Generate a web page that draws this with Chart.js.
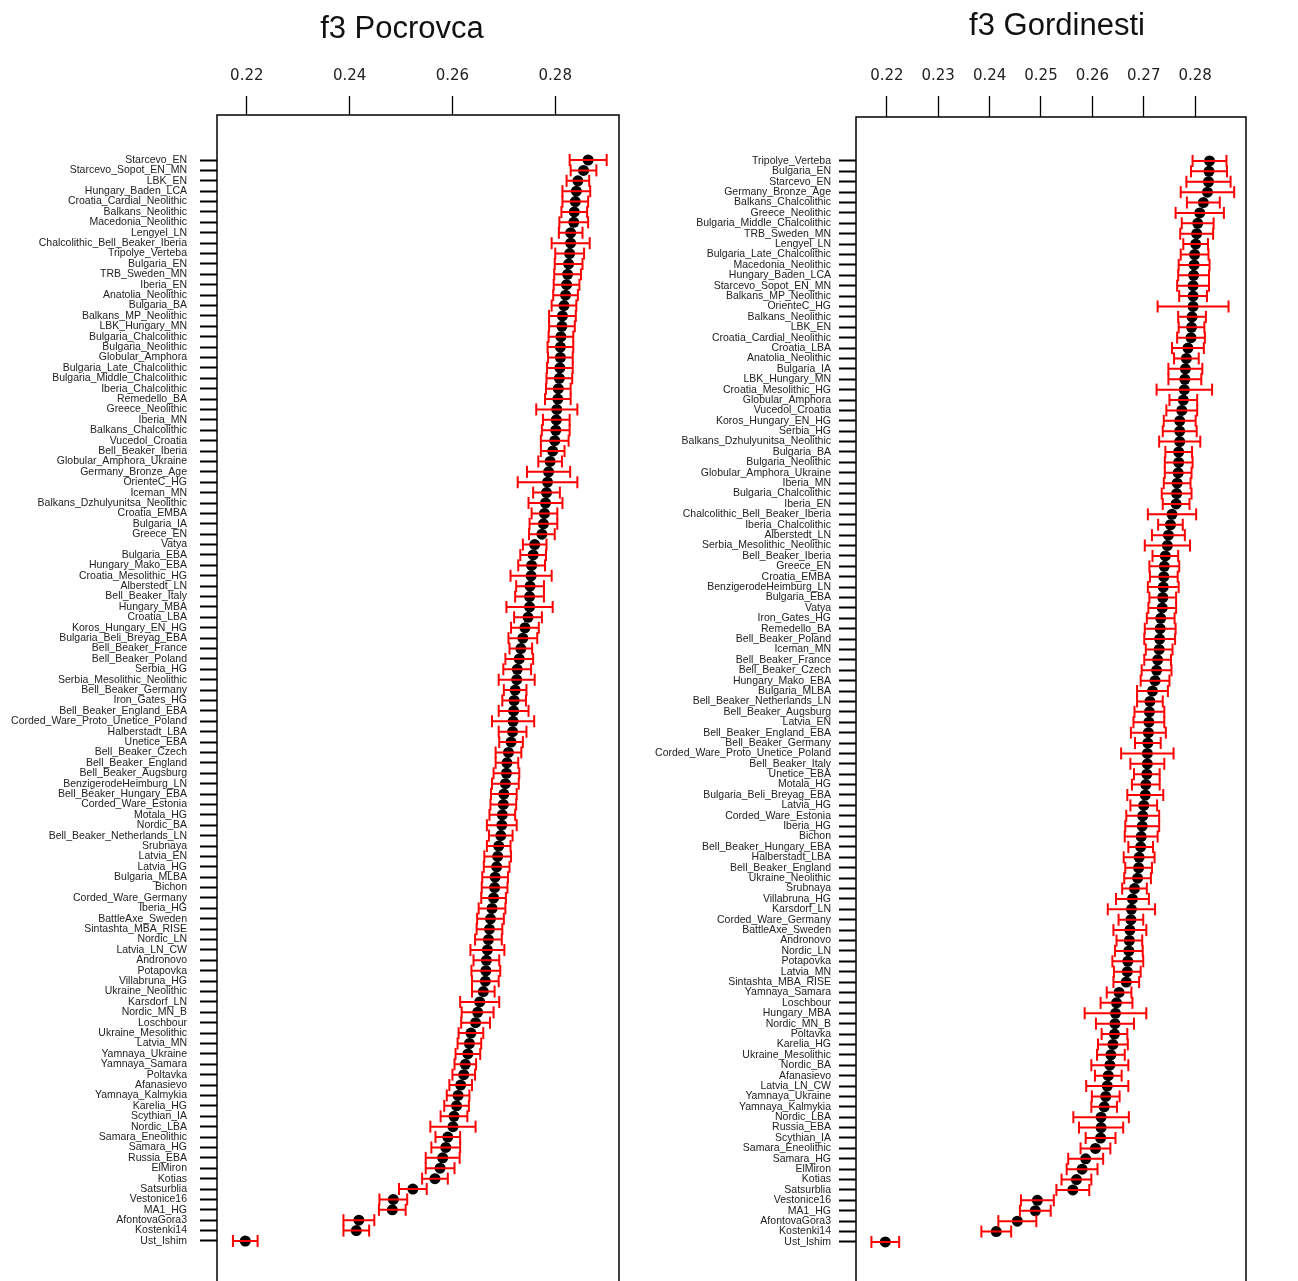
<!DOCTYPE html>
<html><head><meta charset="utf-8">
<script src="https://cdn.jsdelivr.net/npm/chart.js@4.4.0/dist/chart.umd.min.js"></script>
<style>
html,body{margin:0;padding:0;background:#fff;overflow:hidden;width:1298px;height:1281px}
canvas{position:absolute;top:0}
#c1{left:0}
#c2{left:640px}
</style></head>
<body>
<canvas id="c1" width="640" height="1300"></canvas>
<canvas id="c2" width="658" height="1300"></canvas>
<script>
const leftTitle = 'f3 Pocrovca';
const rightTitle = 'f3 Gordinesti';
const leftTicks = [0.22, 0.24, 0.26, 0.28];
const rightTicks = [0.22, 0.23, 0.24, 0.25, 0.26, 0.27, 0.28];

const leftCategories = ['Starcevo_EN','Starcevo_Sopot_EN_MN','LBK_EN','Hungary_Baden_LCA','Croatia_Cardial_Neolithic','Balkans_Neolithic','Macedonia_Neolithic','Lengyel_LN','Chalcolithic_Bell_Beaker_Iberia','Tripolye_Verteba',
'Bulgaria_EN','TRB_Sweden_MN','Iberia_EN','Anatolia_Neolithic','Bulgaria_BA','Balkans_MP_Neolithic','LBK_Hungary_MN','Bulgaria_Chalcolithic','Bulgaria_Neolithic','Globular_Amphora',
'Bulgaria_Late_Chalcolithic','Bulgaria_Middle_Chalcolithic','Iberia_Chalcolithic','Remedello_BA','Greece_Neolithic','Iberia_MN','Balkans_Chalcolithic','Vucedol_Croatia','Bell_Beaker_Iberia','Globular_Amphora_Ukraine',
'Germany_Bronze_Age','OrienteC_HG','Iceman_MN','Balkans_Dzhulyunitsa_Neolithic','Croatia_EMBA','Bulgaria_IA','Greece_EN','Vatya','Bulgaria_EBA','Hungary_Mako_EBA',
'Croatia_Mesolithic_HG','Alberstedt_LN','Bell_Beaker_Italy','Hungary_MBA','Croatia_LBA','Koros_Hungary_EN_HG','Bulgaria_Beli_Breyag_EBA','Bell_Beaker_France','Bell_Beaker_Poland','Serbia_HG',
'Serbia_Mesolithic_Neolithic','Bell_Beaker_Germany','Iron_Gates_HG','Bell_Beaker_England_EBA','Corded_Ware_Proto_Unetice_Poland','Halberstadt_LBA','Unetice_EBA','Bell_Beaker_Czech','Bell_Beaker_England','Bell_Beaker_Augsburg',
'BenzigerodeHeimburg_LN','Bell_Beaker_Hungary_EBA','Corded_Ware_Estonia','Motala_HG','Nordic_BA','Bell_Beaker_Netherlands_LN','Srubnaya','Latvia_EN','Latvia_HG','Bulgaria_MLBA',
'Bichon','Corded_Ware_Germany','Iberia_HG','BattleAxe_Sweden','Sintashta_MBA_RISE','Nordic_LN','Latvia_LN_CW','Andronovo','Potapovka','Villabruna_HG',
'Ukraine_Neolithic','Karsdorf_LN','Nordic_MN_B','Loschbour','Ukraine_Mesolithic','Latvia_MN','Yamnaya_Ukraine','Yamnaya_Samara','Poltavka','Afanasievo',
'Yamnaya_Kalmykia','Karelia_HG','Scythian_IA','Nordic_LBA','Samara_Eneolithic','Samara_HG','Russia_EBA','ElMiron','Kotias','Satsurblia',
'Vestonice16','MA1_HG','AfontovaGora3','Kostenki14','Ust_Ishim'];

const leftValues = [0.2864,0.2855,0.2844,0.2841,0.2839,0.2837,0.2836,0.2830,0.2830,0.2828,
0.2826,0.2824,0.2822,0.2820,0.2817,0.2814,0.2813,0.2811,0.2810,0.2810,
0.2809,0.2808,0.2806,0.2805,0.2803,0.2802,0.2801,0.2799,0.2795,0.2790,
0.2787,0.2785,0.2783,0.2781,0.2779,0.2777,0.2774,0.2760,0.2757,0.2754,
0.2753,0.2751,0.2750,0.2750,0.2747,0.2741,0.2737,0.2733,0.2730,0.2726,
0.2725,0.2722,0.2720,0.2719,0.2718,0.2717,0.2714,0.2709,0.2706,0.2705,
0.2703,0.2700,0.2699,0.2697,0.2696,0.2694,0.2690,0.2688,0.2686,0.2683,
0.2682,0.2680,0.2677,0.2674,0.2672,0.2670,0.2668,0.2666,0.2665,0.2664,
0.2660,0.2653,0.2649,0.2645,0.2636,0.2633,0.2630,0.2625,0.2622,0.2616,
0.2611,0.2608,0.2603,0.2601,0.2591,0.2587,0.2581,0.2576,0.2566,0.2523,
0.2485,0.2483,0.2418,0.2413,0.2197];

const leftErrors = [0.0036,0.0025,0.0022,0.0027,0.0025,0.0025,0.0028,0.0023,0.0037,0.0028,
0.0027,0.0026,0.0025,0.0024,0.0024,0.0026,0.0025,0.0024,0.0025,0.0024,
0.0025,0.0025,0.0024,0.0025,0.0040,0.0026,0.0027,0.0027,0.0023,0.0023,
0.0042,0.0058,0.0026,0.0033,0.0025,0.0027,0.0025,0.0023,0.0025,0.0026,
0.0040,0.0027,0.0028,0.0045,0.0027,0.0027,0.0028,0.0022,0.0027,0.0027,
0.0035,0.0022,0.0023,0.0029,0.0041,0.0027,0.0023,0.0025,0.0022,0.0025,
0.0026,0.0025,0.0025,0.0025,0.0029,0.0023,0.0023,0.0026,0.0025,0.0025,
0.0025,0.0024,0.0026,0.0026,0.0025,0.0026,0.0033,0.0025,0.0028,0.0026,
0.0022,0.0038,0.0031,0.0028,0.0024,0.0023,0.0024,0.0021,0.0022,0.0022,
0.0022,0.0024,0.0026,0.0044,0.0024,0.0028,0.0033,0.0028,0.0025,0.0027,
0.0027,0.0026,0.0030,0.0025,0.0024];

const rightCategories = ['Tripolye_Verteba','Bulgaria_EN','Starcevo_EN','Germany_Bronze_Age','Balkans_Chalcolithic','Greece_Neolithic','Bulgaria_Middle_Chalcolithic','TRB_Sweden_MN','Lengyel_LN','Bulgaria_Late_Chalcolithic',
'Macedonia_Neolithic','Hungary_Baden_LCA','Starcevo_Sopot_EN_MN','Balkans_MP_Neolithic','OrienteC_HG','Balkans_Neolithic','LBK_EN','Croatia_Cardial_Neolithic','Croatia_LBA','Anatolia_Neolithic',
'Bulgaria_IA','LBK_Hungary_MN','Croatia_Mesolithic_HG','Globular_Amphora','Vucedol_Croatia','Koros_Hungary_EN_HG','Serbia_HG','Balkans_Dzhulyunitsa_Neolithic','Bulgaria_BA','Bulgaria_Neolithic',
'Globular_Amphora_Ukraine','Iberia_MN','Bulgaria_Chalcolithic','Iberia_EN','Chalcolithic_Bell_Beaker_Iberia','Iberia_Chalcolithic','Alberstedt_LN','Serbia_Mesolithic_Neolithic','Bell_Beaker_Iberia','Greece_EN',
'Croatia_EMBA','BenzigerodeHeimburg_LN','Bulgaria_EBA','Vatya','Iron_Gates_HG','Remedello_BA','Bell_Beaker_Poland','Iceman_MN','Bell_Beaker_France','Bell_Beaker_Czech',
'Hungary_Mako_EBA','Bulgaria_MLBA','Bell_Beaker_Netherlands_LN','Bell_Beaker_Augsburg','Latvia_EN','Bell_Beaker_England_EBA','Bell_Beaker_Germany','Corded_Ware_Proto_Unetice_Poland','Bell_Beaker_Italy','Unetice_EBA',
'Motala_HG','Bulgaria_Beli_Breyag_EBA','Latvia_HG','Corded_Ware_Estonia','Iberia_HG','Bichon','Bell_Beaker_Hungary_EBA','Halberstadt_LBA','Bell_Beaker_England','Ukraine_Neolithic',
'Srubnaya','Villabruna_HG','Karsdorf_LN','Corded_Ware_Germany','BattleAxe_Sweden','Andronovo','Nordic_LN','Potapovka','Latvia_MN','Sintashta_MBA_RISE',
'Yamnaya_Samara','Loschbour','Hungary_MBA','Nordic_MN_B','Poltavka','Karelia_HG','Ukraine_Mesolithic','Nordic_BA','Afanasievo','Latvia_LN_CW',
'Yamnaya_Ukraine','Yamnaya_Kalmykia','Nordic_LBA','Russia_EBA','Scythian_IA','Samara_Eneolithic','Samara_HG','ElMiron','Kotias','Satsurblia',
'Vestonice16','MA1_HG','AfontovaGora3','Kostenki14','Ust_Ishim'];

const rightValues = [0.2828,0.2827,0.2826,0.2824,0.2816,0.2809,0.2805,0.2803,0.2801,0.2799,
0.2798,0.2797,0.2796,0.2796,0.2796,0.2794,0.2793,0.2792,0.2786,0.2783,
0.2781,0.2780,0.2779,0.2777,0.2774,0.2770,0.2770,0.2770,0.2768,0.2768,
0.2767,0.2765,0.2764,0.2763,0.2755,0.2752,0.2748,0.2746,0.2742,0.2740,
0.2739,0.2738,0.2737,0.2736,0.2733,0.2732,0.2731,0.2730,0.2727,0.2725,
0.2722,0.2717,0.2712,0.2711,0.2710,0.2709,0.2708,0.2707,0.2707,0.2706,
0.2704,0.2703,0.2700,0.2698,0.2697,0.2695,0.2694,0.2691,0.2690,0.2688,
0.2682,0.2678,0.2676,0.2675,0.2673,0.2672,0.2671,0.2669,0.2668,0.2666,
0.2652,0.2647,0.2645,0.2644,0.2643,0.2640,0.2636,0.2634,0.2631,0.2629,
0.2626,0.2623,0.2617,0.2617,0.2616,0.2606,0.2587,0.2580,0.2569,0.2562,
0.2493,0.2489,0.2454,0.2413,0.2197];

const rightErrors = [0.0033,0.0035,0.0043,0.0052,0.0032,0.0047,0.0031,0.0032,0.0024,0.0027,
0.0030,0.0030,0.0031,0.0027,0.0069,0.0027,0.0025,0.0027,0.0031,0.0024,
0.0033,0.0032,0.0054,0.0027,0.0030,0.0031,0.0033,0.0040,0.0026,0.0027,
0.0026,0.0026,0.0029,0.0026,0.0047,0.0024,0.0032,0.0044,0.0025,0.0029,
0.0027,0.0030,0.0026,0.0027,0.0027,0.0030,0.0030,0.0026,0.0026,0.0029,
0.0028,0.0030,0.0025,0.0029,0.0030,0.0034,0.0025,0.0051,0.0033,0.0025,
0.0027,0.0035,0.0026,0.0032,0.0033,0.0032,0.0024,0.0030,0.0026,0.0026,
0.0024,0.0032,0.0046,0.0024,0.0032,0.0025,0.0027,0.0030,0.0026,0.0025,
0.0024,0.0031,0.0060,0.0037,0.0025,0.0029,0.0027,0.0036,0.0026,0.0041,
0.0027,0.0025,0.0054,0.0043,0.0029,0.0029,0.0034,0.0030,0.0029,0.0032,
0.0032,0.0030,0.0037,0.0029,0.0027];

const framePlugin = {
  id: 'frame',
  afterDraw(chart, args, opts) {
    const {ctx, chartArea: a} = chart;
    ctx.save();
    ctx.strokeStyle = '#000';
    ctx.lineWidth = 1.5;
    ctx.strokeRect(a.left, a.top, a.right - a.left, a.bottom - a.top);
    ctx.font = '31px "Liberation Sans", Arial, sans-serif';
    ctx.fillStyle = '#111';
    ctx.textAlign = 'center';
    ctx.textBaseline = 'alphabetic';
    ctx.fillText(opts.text, opts.x, opts.y);
    ctx.restore();
  }
};

function makeChart(id, p) {
  const dots = p.values.map((v, i) => ({x: v, y: i + 1}));
  const bars = [];
  p.values.forEach((v, i) => {
    const e = p.errors[i];
    bars.push({x: v - e, y: i + 1}, {x: v + e, y: i + 1}, {x: v, y: null});
  });
  return new Chart(document.getElementById(id), {
    type: 'scatter',
    data: {
      datasets: [
        {data: bars, showLine: true, borderColor: '#ff0000', borderWidth: 2, spanGaps: false,
         pointStyle: 'line', rotation: 90, pointRadius: 6, pointBorderColor: '#ff0000', pointBorderWidth: 2,
         pointBackgroundColor: '#ff0000', order: 1},
        {data: dots, showLine: false, pointStyle: 'circle', pointRadius: 5.5, pointBorderWidth: 0,
         pointBackgroundColor: '#000', pointBorderColor: '#000', order: 2}
      ]
    },
    options: {
      responsive: false, animation: false, devicePixelRatio: 1, events: [],
      layout: {padding: {left: 0, right: p.padRight, top: 0, bottom: p.padBottom}},
      plugins: {legend: {display: false}, tooltip: {enabled: false},
        frame: {text: p.title, x: p.titleX, y: p.titleY}},
      scales: {
        x: {
          type: 'linear', position: 'top', min: p.xMin, max: p.xMax,
          afterBuildTicks: s => { s.ticks = p.ticks.map(v => ({value: v})); },
          afterFit: s => { s.height = p.xAxisHeight; s.paddingLeft = 0; s.paddingRight = 0; },
          grid: {drawOnChartArea: false, drawTicks: true, tickLength: p.tickLenX, tickColor: '#000', tickWidth: 1.3},
          border: {display: false},
          ticks: {callback: v => v.toFixed(2), padding: 11, color: '#222', maxRotation: 0,
            font: {family: '"DejaVu Sans", sans-serif', size: 15}}
        },
        y: {
          type: 'linear', position: 'left', reverse: true, min: p.yMin, max: p.yMax,
          afterBuildTicks: s => { s.ticks = p.categories.map((c, i) => ({value: i + 1})); },
          afterFit: s => { s.width = p.yAxisWidth; s.paddingTop = 0; s.paddingBottom = 0; },
          grid: {drawOnChartArea: false, drawTicks: true, tickLength: 17, tickColor: '#000', tickWidth: 2},
          border: {display: false},
          ticks: {autoSkip: false, padding: p.yPad, color: '#222',
            callback: v => p.categories[v - 1],
            font: {family: '"Liberation Sans", Arial, sans-serif', size: 10.5}}
        }
      }
    },
    plugins: [framePlugin]
  });
}

makeChart('c1', {
  title: leftTitle, titleX: 402, titleY: 38,
  categories: leftCategories, values: leftValues, errors: leftErrors, ticks: leftTicks,
  xMin: 0.2142, xMax: 0.2924, yMin: -3.33, yMax: 109.33,
  yAxisWidth: 217, xAxisHeight: 115, padRight: 21, padBottom: 14, tickLenX: 19, yPad: 13
});

makeChart('c2', {
  title: rightTitle, titleX: 417, titleY: 35,
  categories: rightCategories, values: rightValues, errors: rightErrors, ticks: rightTicks,
  xMin: 0.2140, xMax: 0.2899, yMin: -3.23, yMax: 109.24,
  yAxisWidth: 216, xAxisHeight: 117, padRight: 52, padBottom: 14, tickLenX: 21, yPad: 8
});
</script>
</body></html>
